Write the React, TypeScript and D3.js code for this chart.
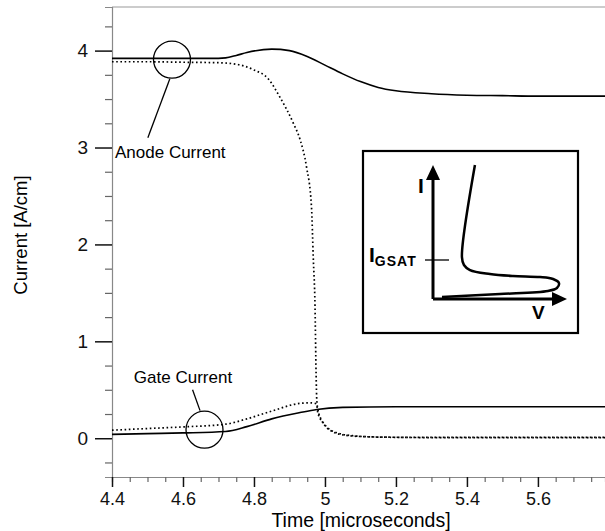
import React, { useRef, useEffect } from 'react';
import * as d3 from 'd3';

// anode current, solid trace
const anodeSolidT = [4.4, 4.5, 4.6, 4.7, 4.72, 4.75, 4.78, 4.85, 4.9, 4.95, 5.0, 5.05, 5.1, 5.15, 5.2, 5.3, 5.4, 5.5, 5.6, 5.79];
const anodeSolidI = [3.92, 3.92, 3.92, 3.92, 3.925, 3.95, 3.98, 4.015, 4.0, 3.94, 3.85, 3.76, 3.68, 3.62, 3.585, 3.555, 3.54, 3.535, 3.53, 3.53];

// anode current, dotted trace
const anodeDotT = [4.4, 4.5, 4.6, 4.7, 4.75, 4.8, 4.84, 4.873, 4.911, 4.93, 4.948, 4.962, 4.967, 4.972, 4.975, 4.977, 4.98, 4.99, 5.0, 5.02, 5.05, 5.1, 5.2, 5.4, 5.79];
const anodeDotI = [3.885, 3.885, 3.88, 3.875, 3.86, 3.8, 3.71, 3.52, 3.25, 3.08, 2.8, 2.39, 1.87, 1.36, 0.67, 0.39, 0.3, 0.19, 0.13, 0.07, 0.035, 0.018, 0.01, 0.008, 0.008];

// gate current, solid trace
const gateSolidT = [4.4, 4.5, 4.6, 4.72, 4.78, 4.85, 4.93, 4.977, 5.05, 5.2, 5.4, 5.79];
const gateSolidI = [0.04, 0.048, 0.055, 0.07, 0.12, 0.2, 0.265, 0.297, 0.318, 0.325, 0.325, 0.325];

// gate current, dotted trace
const gateDotT = [4.4, 4.5, 4.6, 4.72, 4.78, 4.85, 4.93, 4.958, 4.972, 4.977, 4.98, 4.995, 5.01, 5.04, 5.08, 5.15, 5.3, 5.79];
const gateDotI = [0.083, 0.1, 0.117, 0.145, 0.2, 0.28, 0.36, 0.365, 0.36, 0.34, 0.26, 0.16, 0.1, 0.05, 0.025, 0.012, 0.007, 0.007];

// tick values
const xMajor = [4.4, 4.6, 4.8, 5.0, 5.2, 5.4, 5.6];
const yMajor = [0, 1, 2, 3, 4];

// inset sketch (I-V curve), normalised units
const insetV = [0.313, 0.216, 0.231, 0.276, 0.425, 0.597, 0.799, 0.896, 0.94, 0.925, 0.858, 0.5, 0.067];
const insetI = [1.0, 0.313, 0.254, 0.216, 0.187, 0.172, 0.164, 0.149, 0.119, 0.082, 0.06, 0.037, 0.015];

const FONT = '"Liberation Sans", Arial, Helvetica, sans-serif';

export default function App() {
  const svgRef = useRef(null);

  useEffect(() => {
    const width = 605;
    const height = 531;
    const svg = d3.select(svgRef.current).attr('width', width).attr('height', height);
    svg.selectAll('*').remove();

    // scales
    const x = d3.scaleLinear().domain([4.4, 5.789]).range([112, 605]);
    const y = d3.scaleLinear().domain([-0.4, 4.45]).range([477, 7]);

    // top frame line
    svg.append('line')
      .attr('x1', x(4.4)).attr('x2', width)
      .attr('y1', y(4.45)).attr('y2', y(4.45))
      .attr('stroke', '#999').attr('stroke-width', 1.2);

    // minor ticks
    const yMinor = d3.range(-0.25, 4.3, 0.25).filter(v => Math.abs(v - Math.round(v)) > 0.01);
    const xMinor = d3.range(4.45, 5.78, 0.05).filter(v => Math.abs(v * 5 - Math.round(v * 5)) > 0.01);

    svg.append('g')
      .attr('transform', `translate(${x(4.4)},0)`)
      .call(d3.axisLeft(y).tickValues(yMinor).tickSize(7).tickFormat(() => ''))
      .call(g => g.select('.domain').attr('stroke', '#888').attr('stroke-width', 1.2))
      .call(g => g.selectAll('.tick line').attr('stroke', '#666').attr('stroke-width', 1.2));

    svg.append('g')
      .attr('transform', `translate(0,${y(-0.4)})`)
      .call(d3.axisBottom(x).tickValues(xMinor).tickSize(5).tickFormat(() => ''))
      .call(g => g.select('.domain').attr('stroke', '#888').attr('stroke-width', 1.2))
      .call(g => g.selectAll('.tick line').attr('stroke', '#666').attr('stroke-width', 1.2));

    // major ticks + labels
    svg.append('g')
      .attr('transform', `translate(${x(4.4)},0)`)
      .call(d3.axisLeft(y).tickValues(yMajor).tickSize(17).tickPadding(7).tickFormat(d3.format('d')))
      .call(g => g.select('.domain').remove())
      .call(g => g.selectAll('.tick line').attr('stroke', '#111').attr('stroke-width', 1.5))
      .call(g => g.selectAll('.tick text').attr('font-family', FONT).attr('font-size', 19).attr('fill', '#111'));

    svg.append('g')
      .attr('transform', `translate(0,${y(-0.4)})`)
      .call(d3.axisBottom(x).tickValues(xMajor).tickSize(10).tickPadding(5).tickFormat(d => d3.format('')(+d.toFixed(1))))
      .call(g => g.select('.domain').remove())
      .call(g => g.selectAll('.tick line').attr('stroke', '#111').attr('stroke-width', 1.5))
      .call(g => g.selectAll('.tick text').attr('font-family', FONT).attr('font-size', 18).attr('fill', '#111'));

    // axis titles
    svg.append('text')
      .attr('x', 361).attr('y', 527)
      .attr('text-anchor', 'middle')
      .attr('font-family', FONT).attr('font-size', 19.5)
      .text('Time [microseconds]');

    svg.append('text')
      .attr('transform', 'translate(27,235) rotate(-90)')
      .attr('text-anchor', 'middle')
      .attr('font-family', FONT).attr('font-size', 18.5)
      .text('Current [A/cm]');

    // curves
    const line = d3.line().curve(d3.curveMonotoneX).x(d => x(d[0])).y(d => y(d[1]));
    const series = [
      { t: anodeSolidT, v: anodeSolidI, dotted: false },
      { t: anodeDotT, v: anodeDotI, dotted: true },
      { t: gateSolidT, v: gateSolidI, dotted: false },
      { t: gateDotT, v: gateDotI, dotted: true },
    ];
    series.forEach(s => {
      svg.append('path')
        .datum(s.t.map((t, i) => [t, s.v[i]]))
        .attr('fill', 'none')
        .attr('stroke', '#000')
        .attr('stroke-width', s.dotted ? 1.7 : 1.6)
        .attr('stroke-dasharray', s.dotted ? '1.6 2.6' : null)
        .attr('d', line);
    });

    // annotations
    const ann = svg.append('g').attr('stroke', '#000').attr('stroke-width', 1.3).attr('fill', 'none');
    ann.append('circle').attr('cx', x(4.569)).attr('cy', y(3.907)).attr('r', 18.5);
    ann.append('line').attr('x1', x(4.563)).attr('y1', y(3.71)).attr('x2', x(4.501)).attr('y2', y(3.1));
    ann.append('circle').attr('cx', x(4.6606)).attr('cy', y(0.088)).attr('r', 18.5);
    ann.append('line').attr('x1', x(4.648)).attr('y1', y(0.285)).attr('x2', x(4.627)).attr('y2', y(0.5));

    svg.append('text')
      .attr('x', x(4.4) + 3).attr('y', y(3.0) + 10)
      .attr('font-family', FONT).attr('font-size', 17)
      .text('Anode Current');
    svg.append('text')
      .attr('x', 183).attr('y', y(0.57))
      .attr('text-anchor', 'middle')
      .attr('font-family', FONT).attr('font-size', 17)
      .text('Gate Current');

    // inset
    svg.append('rect')
      .attr('x', 363).attr('y', 151).attr('width', 215).attr('height', 182)
      .attr('fill', '#fff').attr('stroke', '#000').attr('stroke-width', 2.2);

    const ix = d3.scaleLinear().domain([0, 1]).range([433, 567]);
    const iy = d3.scaleLinear().domain([0, 1]).range([299, 165]);
    const inset = svg.append('g');
    inset.append('line').attr('x1', ix(0)).attr('y1', iy(0)).attr('x2', ix(0)).attr('y2', iy(0.9))
      .attr('stroke', '#000').attr('stroke-width', 3);
    inset.append('line').attr('x1', ix(0)).attr('y1', iy(0)).attr('x2', ix(0.9)).attr('y2', iy(0))
      .attr('stroke', '#000').attr('stroke-width', 3);
    inset.append('path')
      .attr('d', `M${ix(0)},${iy(1)} L${ix(0) - 7},${iy(1) + 15} L${ix(0) + 7},${iy(1) + 15} Z`)
      .attr('fill', '#000');
    inset.append('path')
      .attr('d', `M${ix(1)},${iy(0)} L${ix(1) - 15},${iy(0) - 7} L${ix(1) - 15},${iy(0) + 7} Z`)
      .attr('fill', '#000');
    inset.append('path')
      .datum(insetV.map((v, i) => [v, insetI[i]]))
      .attr('fill', 'none').attr('stroke', '#000').attr('stroke-width', 2.5)
      .attr('stroke-linejoin', 'round')
      .attr('d', d3.line().curve(d3.curveCatmullRom.alpha(0.5)).x(d => ix(d[0])).y(d => iy(d[1])));
    // I_GSAT marker
    inset.append('line').attr('x1', ix(0) - 8).attr('x2', ix(0) + 16).attr('y1', 260).attr('y2', 260)
      .attr('stroke', '#000').attr('stroke-width', 1.3);

    inset.append('text').attr('x', 418).attr('y', 193)
      .attr('font-family', FONT).attr('font-size', 21).attr('font-weight', 'bold').text('I');
    inset.append('text').attr('x', 532).attr('y', 319)
      .attr('font-family', FONT).attr('font-size', 19).attr('font-weight', 'bold').text('V');
    const gs = inset.append('text').attr('x', 369).attr('y', 262)
      .attr('font-family', FONT).attr('font-weight', 'bold');
    gs.append('tspan').attr('font-size', 21).text('I');
    gs.append('tspan').attr('font-size', 14).attr('dy', 4).attr('letter-spacing', 1).text('GSAT');
  }, []);

  return (
    <svg ref={svgRef} style={{ position: 'absolute', left: 0, top: 0, background: '#fff' }}></svg>
  );
}
